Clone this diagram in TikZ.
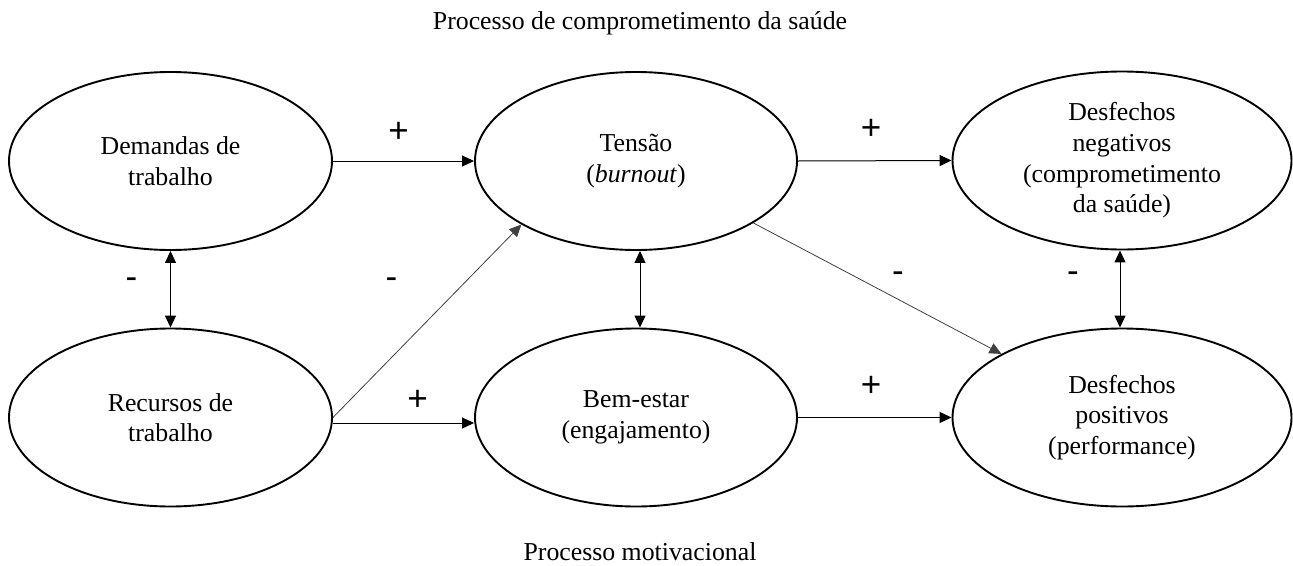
\documentclass[tikz,border=0pt]{standalone}
\usepackage{fontspec}
\setmainfont{Liberation Serif}
\newfontfamily\signfont{Liberation Sans}
\usetikzlibrary{shapes.geometric,arrows.meta}
\tikzset{
  ell/.style={draw, ellipse, line width=1.9pt, inner sep=0pt, align=center,
    minimum height=178pt, font=\fontsize{25.8}{30.6}\selectfont},
  lbl/.style={inner sep=0pt, anchor=base, font=\fontsize{25.8}{30.6}\selectfont},
  sgn/.style={inner sep=0pt, anchor=base, font=\signfont\fontsize{35}{40}\selectfont},
  arr/.style={line width=1pt, -{Triangle[length=12pt,width=11pt]}},
  darr/.style={line width=1pt, {Triangle[length=12pt,width=11pt]}-{Triangle[length=12pt,width=11pt]}},
  diag/.style={line width=0.8pt, draw=black!75, -{Triangle[length=12pt,width=11pt]}}
}
\begin{document}
\begin{tikzpicture}[x=1pt,y=-1pt]
\useasboundingbox (0,0) rectangle (1293,565);
% titles
\node[lbl] (t1) at (640,29) {Processo de comprometimento da saúde};
\node[lbl] (t2) at (640,560) {Processo motivacional};
% ellipses
\node[ell, minimum width=323pt] (dem) at (170.5,161) {Demandas de\\trabalho};
\node[ell, minimum width=322pt] (ten) at (636,161) {Tensão\\(\textit{burnout})};
\node[ell, minimum width=339pt] (dneg) at (1122,160.5) {Desfechos\\negativos\\(comprometimento\\da saúde)};
\node[ell, minimum width=323pt] (rec) at (170.5,417.5) {Recursos de\\trabalho};
\node[ell, minimum width=322pt] (bem) at (636,417.5) {Bem-estar\\(engajamento)};
\node[ell, minimum width=339pt] (dpos) at (1122,417.5) {Desfechos\\positivos\\(performance)};
% connectors
\draw[arr] (dem.east) -- (ten.west);
\draw[arr] (ten.east) -- (dneg.west);
\draw[arr] ([yshift=-5.5pt]rec.east) -- ([yshift=-5.5pt]bem.west);
\draw[arr] (bem.east) -- (dpos.west);
\draw[darr] (dem.south) -- (rec.north);
\draw[darr] ([xshift=4pt]ten.south) -- ([xshift=4pt]bem.north);
\draw[darr] ([xshift=-2pt]dneg.south) -- ([xshift=-2pt]dpos.north);
\draw[diag] (rec.east) -- (ten.209.5);
\draw[diag] (ten) -- (dpos);
% signs
\node[sgn] (s1) at (398.5,142.5) {+};
\node[sgn] (s2) at (871,139.5) {+};
\node[sgn] (s3) at (417.5,410.5) {+};
\node[sgn] (s4) at (871,396.5) {+};
\node[sgn] (s5) at (131.5,288.5) {-};
\node[sgn] (s6) at (391.5,288.5) {-};
\node[sgn] (s7) at (898,282.5) {-};
\node[sgn] (s8) at (1073,282.5) {-};
\end{tikzpicture}
\end{document}
